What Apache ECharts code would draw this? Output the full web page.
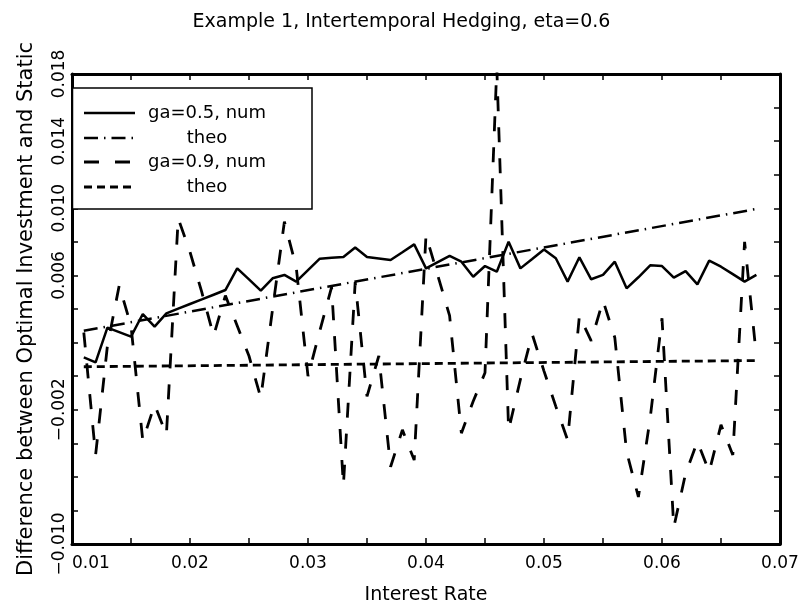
<!DOCTYPE html>
<html><head><meta charset="utf-8">
<script src="https://cdn.jsdelivr.net/npm/echarts@6/dist/echarts.min.js"></script>
<style>html,body{margin:0;padding:0;background:#fff}#c{width:803px;height:608px}</style>
</head><body><div id="c"></div>
<script>
// ---- data ----
const rates = [0.011,0.012,0.013,0.014,0.015,0.016,0.017,0.018,0.019,0.020,
  0.021,0.022,0.023,0.024,0.025,0.026,0.027,0.028,0.029,0.030,
  0.031,0.032,0.033,0.034,0.035,0.036,0.037,0.038,0.039,0.040,
  0.041,0.042,0.043,0.044,0.045,0.046,0.047,0.048,0.049,0.050,
  0.051,0.052,0.053,0.054,0.055,0.056,0.057,0.058,0.059,0.060,
  0.061,0.062,0.063,0.064,0.065,0.066,0.067,0.068];
const ga05Num = [0.00112,0.00082,0.00289,0.00262,0.00235,0.00370,0.00295,0.00374,0.00402,0.00430,
  0.00457,0.00485,0.00513,0.00642,0.00576,0.00509,0.00583,0.00603,0.00563,0.00632,
  0.00700,0.00706,0.00710,0.00766,0.00710,0.00701,0.00692,0.00738,0.00785,0.00642,
  0.00679,0.00716,0.00682,0.00592,0.00656,0.00622,0.00801,0.00642,0.00698,0.00755,
  0.00702,0.00563,0.00708,0.00577,0.00603,0.00682,0.00523,0.00589,0.00660,0.00656,
  0.00587,0.00626,0.00547,0.00688,0.00652,0.00608,0.00563,0.00603];
const ga09Num = [0.00260,-0.00470,0.00180,0.00540,0.00300,-0.00385,-0.00170,-0.00350,0.00940,0.00740,
  0.00500,0.00240,0.00480,0.00300,0.00120,-0.00130,0.00400,0.00920,0.00650,0.00000,
  0.00270,0.00530,-0.00650,0.00560,-0.00120,0.00120,-0.00540,-0.00320,-0.00500,0.00840,
  0.00600,0.00360,-0.00340,-0.00150,0.00020,0.01840,-0.00320,-0.00020,0.00250,0.00030,
  -0.00180,-0.00380,0.00360,0.00210,0.00450,0.00230,-0.00450,-0.00720,-0.00250,0.00345,
  -0.00900,-0.00580,-0.00390,-0.00570,-0.00290,-0.00470,0.00800,0.00120];
const theoRates = [0.011, 0.068];
const ga05Theo = [0.00270, 0.00996];
const ga09Theo = [0.00056, 0.00093];
const xTickValues = [0.01,0.02,0.03,0.04,0.05,0.06,0.07];
const xTickLabels = ['0.01','0.02','0.03','0.04','0.05','0.06','0.07'];
const yTickValues = [-0.010,-0.002,0.006,0.010,0.014,0.018];
const yTickLabels = ['\u22120.010','\u22120.002','0.006','0.010','0.014','0.018'];
const legendNames = ['ga=0.5, num','theo','ga=0.9, num','theo'];
const titleText = 'Example 1, Intertemporal Hedging, eta=0.6';
const xName = 'Interest Rate';
const yName = 'Difference between Optimal Investment and Static';

// ---- chart ----
const FONT = 'DejaVu Sans';
const pairs = (xs, ys) => xs.map((x, i) => [x, ys[i]]);
const fmt = (vals, labels) => v => {
  const k = vals.findIndex(t => Math.round(t * 10000) === Math.round(v * 10000));
  return k >= 0 ? labels[k] : '';
};
const styles = [
  {type: 'solid', width: 2.5},
  {type: [14, 6, 1.5, 6], width: 2.5},
  {type: [15, 16], width: 2.8},
  {type: [8, 5], width: 2.8}
];
const frameLine = {show: true, onZero: false, lineStyle: {color: '#000', width: 3}};
const tick = {show: true, inside: true, length: 6, lineStyle: {color: '#000', width: 1.5}};

const chart = echarts.init(document.getElementById('c'), null, {renderer: 'canvas'});
const rows = [113, 138, 162, 187];
const legendGraphics = [{
  type: 'rect', z: 100, shape: {x: 72.5, y: 88, width: 239.5, height: 121},
  style: {fill: '#fff', stroke: '#000', lineWidth: 1.5}
}];
rows.forEach((y, i) => {
  legendGraphics.push({
    type: 'line', z: 101, shape: {x1: 84, y1: y, x2: 135, y2: y},
    style: {stroke: '#000', lineWidth: styles[i].width,
      lineDash: styles[i].type === 'solid' ? null : styles[i].type}
  });
  legendGraphics.push({
    type: 'text', z: 101, x: 207, y: y,
    style: {text: legendNames[i], fill: '#000', font: '18px "' + FONT + '"',
      textAlign: 'center', textVerticalAlign: 'middle'}
  });
});

const series = [
  pairs(rates, ga05Num), pairs(theoRates, ga05Theo),
  pairs(rates, ga09Num), pairs(theoRates, ga09Theo)
].map((d, i) => ({
  type: 'line', data: d, xAxisIndex: 0, yAxisIndex: 0,
  showSymbol: false, symbol: 'none', animation: false, clip: true,
  lineStyle: {color: '#000', width: styles[i].width, type: styles[i].type, cap: 'butt'}
}));

chart.setOption({
  animation: false,
  backgroundColor: '#fff',
  title: {text: titleText, left: 'center', top: 8,
    textStyle: {fontFamily: FONT, fontSize: 19, fontWeight: 'normal', color: '#000'}},
  grid: {left: 72, right: 23, top: 74, bottom: 64, containLabel: false, outerBoundsMode: 'none'},
  xAxis: [{
    type: 'value', min: 0.01, max: 0.07, interval: 0.005, position: 'bottom',
    axisLine: frameLine, axisTick: tick, splitLine: {show: false},
    axisLabel: {formatter: fmt(xTickValues, xTickLabels), fontFamily: FONT, fontSize: 17,
      color: '#000', margin: 11, alignMinLabel: 'left'},
    name: xName, nameLocation: 'middle', nameGap: 42,
    nameTextStyle: {fontFamily: FONT, fontSize: 19, color: '#000'}
  }, {
    type: 'value', min: 0.01, max: 0.07, interval: 0.005, position: 'top',
    axisLine: frameLine, axisTick: tick, splitLine: {show: false}, axisLabel: {show: false}
  }],
  yAxis: [{
    type: 'value', min: -0.010, max: 0.018, interval: 0.002, position: 'left',
    axisLine: frameLine, axisTick: tick, splitLine: {show: false},
    axisLabel: {formatter: fmt(yTickValues, yTickLabels), fontFamily: FONT, fontSize: 17,
      color: '#000', rotate: 90, margin: 4},
    name: yName, nameLocation: 'middle', nameGap: 35, nameRotate: 90,
    nameTextStyle: {fontFamily: FONT, fontSize: 21, color: '#000'}
  }, {
    type: 'value', min: -0.010, max: 0.018, interval: 0.002, position: 'right',
    axisLine: frameLine, axisTick: tick, splitLine: {show: false}, axisLabel: {show: false}
  }],
  series: series,
  graphic: legendGraphics
});
</script></body></html>
